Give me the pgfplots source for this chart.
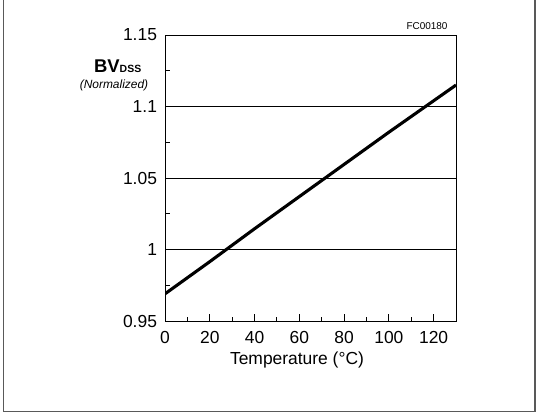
\documentclass[border=0pt]{standalone}
\usepackage{fontspec}
\setmainfont{Liberation Sans}
\usepackage{pgfplots}
\pgfplotsset{compat=1.18}
\begin{document}
\begin{tikzpicture}[x=1bp,y=1bp]
\path[use as bounding box] (-165,-92) rectangle (371,321);
\draw[color=black!65, line width=1.2bp] (-161.5,322) -- (-161.5,-90.7) -- (370,-90.7) -- (370,322);
\begin{axis}[
  at={(0,0)}, anchor=south west,
  scale only axis, width=291bp, height=286bp,
  xmin=0, xmax=130, ymin=0.95, ymax=1.15,
  xtick={0,20,40,60,80,100,120},
  minor xtick={10,30,50,70,90,110},
  ytick={0.95,1,1.05,1.1,1.15},
  yticklabels={0.95,1,1.05,1.1,1.15},
  minor ytick={0.975,1.025,1.075,1.125},
  xtick pos=left, ytick pos=left,
  tick align=inside,
  major tick length=7bp, minor tick length=4.5bp,
  ymajorgrids,
  grid style={black, line width=0.9bp},
  axis line style={black, line width=1bp},
  tick style={black, line width=0.9bp},
  ticklabel style={font=\fontsize{17.5}{19}\selectfont},
  xticklabel style={yshift=-7bp},
  yticklabel style={xshift=-4.5bp},
  /pgf/number format/assume math mode=true,
  clip=true,
]
\addplot[black, line width=3.1bp] coordinates {
(0,0.969) (20,0.9915) (40,1.0145) (60,1.037) (80,1.0595) (100,1.082) (120,1.104) (130,1.115)
};
\end{axis}
\node[anchor=base east, font=\fontsize{10}{12}\selectfont] at (286,292) {FC00180};
\node[anchor=base] at (-47.3,248.3) {\fontsize{18.5}{20}\selectfont\bfseries BV\fontsize{10.5}{12}\selectfont DSS};
\node[anchor=base, font=\fontsize{12}{14}\selectfont\itshape] at (-51,232.5) {(Normalized)};
\node[anchor=base, font=\fontsize{17.5}{19}\selectfont] at (132,-43.5) {Temperature (°C)};
\end{tikzpicture}
\end{document}
